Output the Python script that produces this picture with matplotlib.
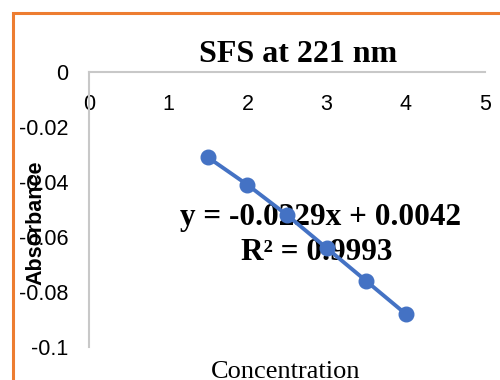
import matplotlib.pyplot as plt
from matplotlib.patches import Rectangle

# data
concentration = [1.5, 2.0, 2.5, 3.0, 3.5, 4.0]
absorbance = [-0.031, -0.041, -0.052, -0.064, -0.076, -0.088]
x_ticks = [0, 1, 2, 3, 4, 5]
y_ticks = [0, -0.02, -0.04, -0.06, -0.08, -0.1]
y_tick_labels = ["0", "-0.02", "-0.04", "-0.06", "-0.08", "-0.1"]
equation = "y = -0.0229x + 0.0042"
r_squared = "R² = 0.9993"

W, H = 500, 380
fig = plt.figure(figsize=(5, 3.8), dpi=100)
ax = fig.add_axes([89 / W, 1 - 347 / H, (485 - 89) / W, (347 - 72) / H])

# orange chart border (only left and top visible in the crop)
fig.patches.append(Rectangle((12.5 / W, -0.1), 1.2, 1 - 13 / H + 0.1,
                             transform=fig.transFigure, fill=False,
                             edgecolor="#ED7D31", linewidth=2.2))

# series
ax.plot(concentration, absorbance, "-o", color="#4472C4", linewidth=2.8,
        markersize=10.5, zorder=3, clip_on=False)

# axes
ax.set_xlim(0, 5)
ax.set_ylim(-0.1, 0)
for side in ["right", "bottom"]:
    ax.spines[side].set_visible(False)
for side in ["left", "top"]:
    ax.spines[side].set_color("#C8C8C8")
    ax.spines[side].set_linewidth(1.5)
ax.set_xticks(x_ticks)
ax.set_yticks(y_ticks)
ax.set_yticklabels(y_tick_labels)
ax.tick_params(axis="x", top=True, labeltop=True, bottom=False,
               labelbottom=False, length=0, pad=-31)
ax.tick_params(axis="y", length=0, pad=15)
for lab in ax.get_xticklabels() + ax.get_yticklabels():
    lab.set_family("Liberation Sans")
    lab.set_fontsize(15.5)

# texts
fig.text(298 / W, 1 - 55 / H, "SFS at 221 nm", family="Liberation Serif",
         weight="bold", fontsize=23, ha="center", va="center")
ax.text(321 / W, 1 - 217 / H, equation, transform=fig.transFigure,
        family="Liberation Serif", weight="bold", fontsize=22.5,
        ha="center", va="center", zorder=1)
ax.text(317 / W, 1 - 253 / H, r_squared, transform=fig.transFigure,
        family="Liberation Serif", weight="bold", fontsize=22.5,
        ha="center", va="center", zorder=1)
fig.text(36 / W, 1 - 223 / H, "Absorbance", family="Liberation Sans",
         weight="bold", fontsize=15.5, rotation=90, ha="center", va="center")
fig.text(286 / W, 1.5 / H, "Concentration", family="Liberation Serif",
         fontsize=19, ha="center", va="baseline")

fig.savefig("out.png", dpi=100)
